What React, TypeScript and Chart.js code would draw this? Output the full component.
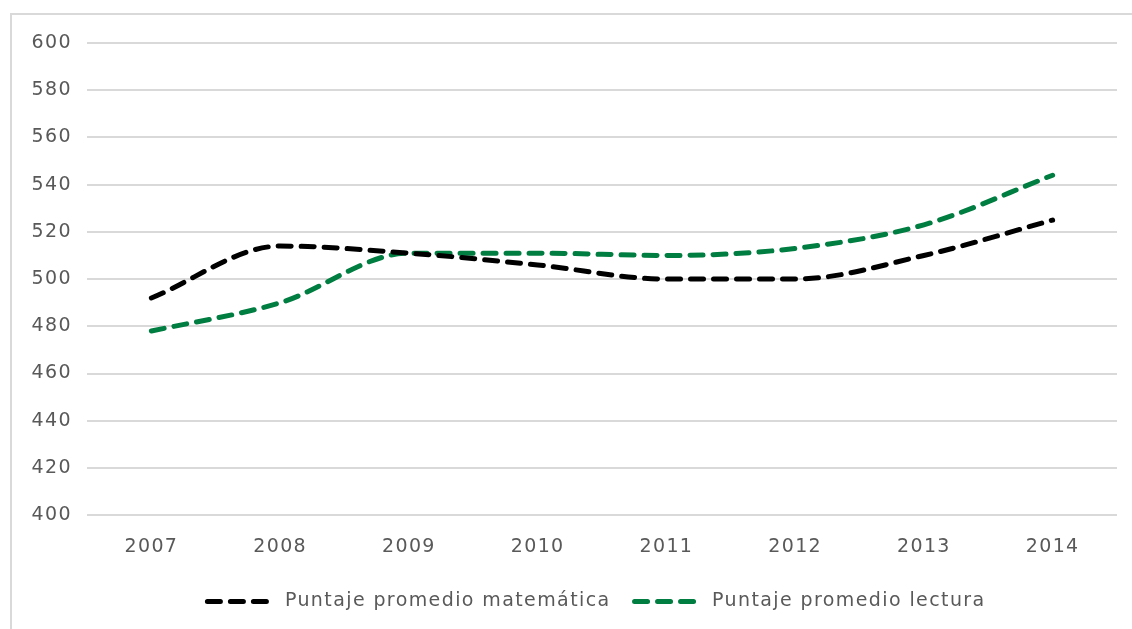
import React, { useEffect, useRef } from "react";
import { Chart, registerables } from "chart.js";

Chart.register(...registerables);

const years = ["2007", "2008", "2009", "2010", "2011", "2012", "2013", "2014"];
const matematica = [492, 514, 511, 506, 500, 500, 510, 525];
const lectura = [478, 490, 511, 511, 510, 513, 523, 544];
const seriesNames = ["Puntaje promedio matemática", "Puntaje promedio lectura"];
const seriesColors = ["#000000", "#007D41"];

const LS = "1.4px";
const FONT = "'DejaVu Sans', 'Open Sans', sans-serif";
const TEXT = "#595959";
const GRID = "#d9d9d9";
const DASH = [13, 10];
const SAMPLE_W = 64;

const helperPlugin = {
  id: "helper",
  beforeUpdate(chart: any) {
    chart.ctx.letterSpacing = LS;
  },
  beforeLayout(chart: any) {
    chart.ctx.letterSpacing = LS;
  },
  afterLayout(chart: any) {
    if (chart.legend) chart.legend.left = 76;
  },
  beforeDraw(chart: any) {
    chart.ctx.letterSpacing = LS;
  },
  afterDraw(chart: any) {
    const legend = chart.legend;
    if (!legend || !legend.legendHitBoxes) return;
    const ctx = chart.ctx;
    legend.legendHitBoxes.forEach((hb: any, i: number) => {
      const ds = chart.data.datasets[i];
      const y = hb.top + hb.height / 2;
      ctx.save();
      ctx.strokeStyle = ds.borderColor;
      ctx.lineWidth = ds.borderWidth;
      ctx.lineCap = "round";
      ctx.setLineDash(ds.borderDash);
      ctx.beginPath();
      ctx.moveTo(hb.left, y);
      ctx.lineTo(hb.left + SAMPLE_W, y);
      ctx.stroke();
      ctx.restore();
    });
  },
};

export default function App() {
  const ref = useRef<HTMLCanvasElement | null>(null);

  useEffect(() => {
    document.body.style.margin = "0";
    const canvas = ref.current!;
    const font = { family: FONT, size: 19, weight: "normal" } as any;
    const chart = new Chart(canvas, {
      type: "line",
      data: {
        labels: years,
        datasets: [matematica, lectura].map((d, i) => ({
          label: seriesNames[i],
          data: d,
          borderColor: seriesColors[i],
          backgroundColor: seriesColors[i],
          borderWidth: 5,
          borderDash: DASH,
          borderCapStyle: "round" as const,
          pointRadius: 0,
          cubicInterpolationMode: "monotone" as const,
          fill: false,
        })),
      },
      options: {
        animation: false,
        responsive: false,
        maintainAspectRatio: false,
        layout: { padding: { left: 0, right: 15, top: 43, bottom: 8 } },
        plugins: {
          tooltip: { enabled: false },
          legend: {
            position: "bottom",
            labels: {
              color: TEXT,
              font,
              usePointStyle: true,
              pointStyle: "line",
              pointStyleWidth: 68,
              boxHeight: 6,
              padding: 24,
              generateLabels(chart: any) {
                const items = Chart.defaults.plugins.legend.labels.generateLabels(chart);
                return items.map((it: any) => ({
                  ...it,
                  strokeStyle: "rgba(0,0,0,0)",
                  fillStyle: "rgba(0,0,0,0)",
                  lineWidth: 0,
                }));
              },
            },
          },
        },
        scales: {
          x: {
            offset: true,
            grid: { display: false, drawTicks: false },
            border: { display: false },
            ticks: { color: TEXT, font, padding: 20, maxRotation: 0 },
            afterFit(scale: any) {
              scale.height = scale.height - 10;
            },
          },
          y: {
            min: 400,
            max: 600,
            ticks: { color: TEXT, font, padding: 15, stepSize: 20 },
            grid: { color: GRID, lineWidth: 2, drawTicks: false },
            border: { display: false },
            afterFit(scale: any) {
              scale.width = 87;
            },
          },
        },
      },
      plugins: [helperPlugin],
    });
    return () => chart.destroy();
  }, []);

  return (
    <div style={{ position: "fixed", left: 0, top: 0, width: 1132, height: 629, overflow: "hidden", background: "#fff" }}>
      <div
        style={{
          position: "absolute",
          left: 10,
          top: 13,
          width: 1300,
          height: 800,
          border: `2px solid ${GRID}`,
          boxSizing: "border-box",
        }}
      />
      <canvas ref={ref} width={1132} height={629} style={{ position: "absolute", left: 0, top: 0, width: 1132, height: 629 }} />
    </div>
  );
}
